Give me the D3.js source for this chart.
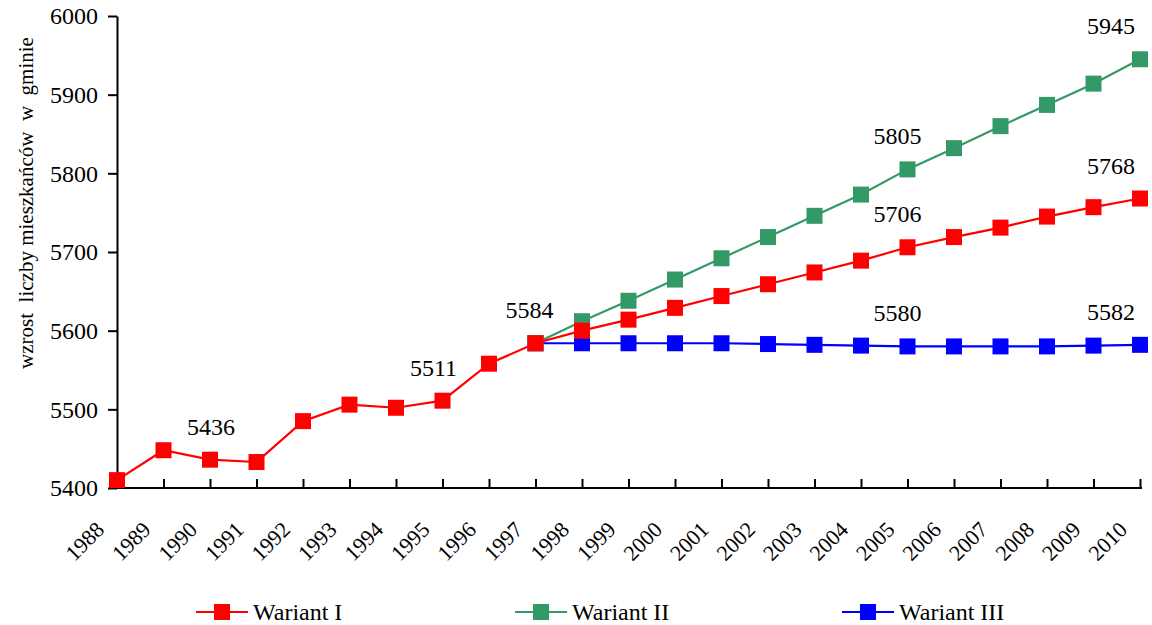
<!DOCTYPE html>
<html>
<head>
<meta charset="utf-8">
<script src="https://cdn.jsdelivr.net/npm/d3@7"></script>
<style>
  body { margin: 0; background: #fff; }
  svg, svg text { font-family: "Times New Roman", "Liberation Serif", "DejaVu Serif", serif !important; fill: #000; }
</style>
</head>
<body>
<div id="chart"></div>
<script>
var years = [1988, 1989, 1990, 1991, 1992, 1993, 1994, 1995, 1996, 1997, 1998, 1999,
             2000, 2001, 2002, 2003, 2004, 2005, 2006, 2007, 2008, 2009, 2010];

// Wariant I covers the whole range, II and III start in 1997
var wariant1 = [5410, 5448, 5436, 5433, 5485, 5506, 5502, 5511, 5558, 5584, 5600, 5614,
                5629, 5644, 5659, 5674, 5689, 5706, 5719, 5731, 5745, 5757, 5768];
var wariant2Years = [1997, 1998, 1999, 2000, 2001, 2002, 2003, 2004, 2005, 2006, 2007, 2008, 2009, 2010];
var wariant2 = [5584, 5612, 5638, 5665, 5692, 5719, 5746, 5773, 5805, 5832, 5860, 5887, 5914, 5945];
var wariant3 = [5584, 5584, 5584, 5584, 5584, 5583, 5582, 5581, 5580, 5580, 5580, 5580, 5581, 5582];

var yTicks = [5400, 5500, 5600, 5700, 5800, 5900, 6000];
var seriesNames = ["Wariant I", "Wariant II", "Wariant III"];

// which points get a value label: [series index, year]
var labelled = [[0, 1990], [0, 1995], [0, 1997], [1, 2005], [0, 2005], [2, 2005],
                [1, 2010], [0, 2010], [2, 2010]];

var width = 1152, height = 625;
var colors = ["#ff0000", "#339966", "#0000ff"];
var font = '"Times New Roman", "Liberation Serif", serif';

var series = [
  years.map(function(y, i) { return {year: y, value: wariant1[i]}; }),
  wariant2Years.map(function(y, i) { return {year: y, value: wariant2[i]}; }),
  wariant2Years.map(function(y, i) { return {year: y, value: wariant3[i]}; })
];

var svg = d3.select('#chart').append('svg')
  .attr('width', width)
  .attr('height', height)
  .attr('font-family', font);

var x = d3.scalePoint().domain(years).range([117, 1140]);
var y = d3.scaleLinear().domain([5400, 6000]).range([488, 16]);

// x axis: ticks pointing up, labels rotated
var xAxis = svg.append('g')
  .attr('transform', 'translate(0,488)')
  .call(d3.axisBottom(x).tickSizeInner(-9).tickSizeOuter(0).tickPadding(0));
xAxis.attr('font-family', font);
xAxis.select('.domain').attr('d', 'M117,0H1142').attr('stroke-width', 2);
xAxis.selectAll('.tick line').attr('stroke-width', 2);
xAxis.selectAll('.tick text')
  .attr('y', 0).attr('dy', 0)
  .attr('transform', 'translate(-12,43) rotate(-45)')
  .style('text-anchor', 'end')
  .style('font-size', '22px');

// y axis
var yAxis = svg.append('g')
  .attr('transform', 'translate(117,0)')
  .call(d3.axisLeft(y).tickValues(yTicks).tickSizeInner(9).tickSizeOuter(0).tickPadding(10)
    .tickFormat(d3.format('d')));
yAxis.attr('font-family', font);
yAxis.select('.domain').attr('stroke-width', 2);
yAxis.selectAll('.tick line').attr('stroke-width', 2);
yAxis.selectAll('.tick text').style('font-size', '24px').attr('dy', '0.33em');

svg.append('text')
  .attr('transform', 'translate(33,203) rotate(-90)')
  .attr('text-anchor', 'middle')
  .style('font-size', '21px')
  .style('white-space', 'pre')
  .text('wzrost  liczby mieszkańców  w  gminie');

var line = d3.line()
  .x(function(d) { return x(d.year); })
  .y(function(d) { return y(d.value); });

// draw III first so red/green sit on top as in the original
[2, 1, 0].forEach(function(s) {
  var g = svg.append('g');
  g.append('path')
    .datum(series[s])
    .attr('fill', 'none')
    .attr('stroke', colors[s])
    .attr('stroke-width', 2.2)
    .attr('d', line);
  g.selectAll('rect')
    .data(series[s])
  .enter().append('rect')
    .attr('x', function(d) { return x(d.year) - 8; })
    .attr('y', function(d) { return y(d.value) - 8; })
    .attr('width', 16)
    .attr('height', 16)
    .attr('fill', colors[s]);
});

// value labels, nudged a bit left like the original
var labelDx = {1990: 1, 1995: -9, 1997: -6, 2005: -10, 2010: -29};
svg.selectAll('.val')
  .data(labelled)
.enter().append('text')
  .attr('class', 'val')
  .attr('x', function(d) { return x(d[1]) + labelDx[d[1]]; })
  .attr('y', function(d) {
    var p = series[d[0]].filter(function(v) { return v.year === d[1]; })[0];
    return y(p.value) - 25;
  })
  .attr('text-anchor', 'middle')
  .style('font-size', '24px')
  .text(function(d) {
    return series[d[0]].filter(function(v) { return v.year === d[1]; })[0].value;
  });

// legend
var legendX = [196, 515, 842];
var legend = svg.selectAll('.legend')
  .data(seriesNames)
.enter().append('g')
  .attr('class', 'legend')
  .attr('transform', function(d, i) { return 'translate(' + legendX[i] + ',612)'; });

legend.append('line')
  .attr('x1', 0).attr('x2', 52)
  .attr('stroke', function(d, i) { return colors[i]; })
  .attr('stroke-width', 2.2);
legend.append('rect')
  .attr('x', 18).attr('y', -8)
  .attr('width', 16).attr('height', 16)
  .attr('fill', function(d, i) { return colors[i]; });
legend.append('text')
  .attr('x', 57)
  .attr('y', 8)
  .style('font-size', '24px')
  .text(function(d) { return d; });
</script>
</body>
</html>
